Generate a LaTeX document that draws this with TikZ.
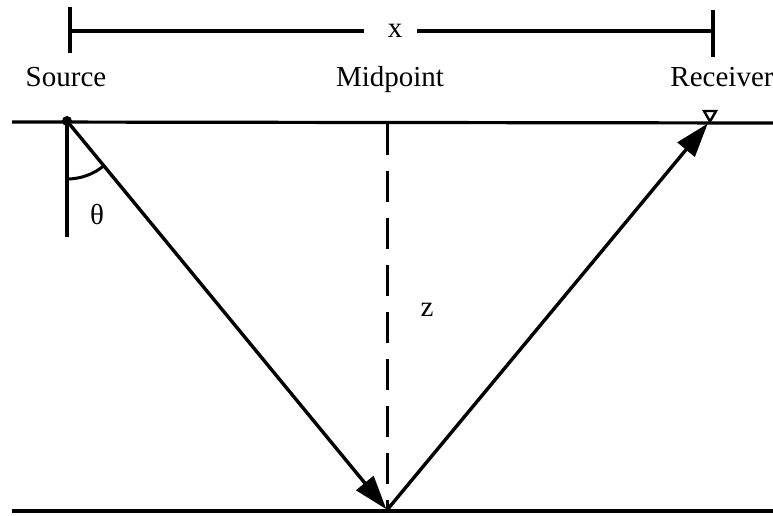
\documentclass[tikz,border=0pt]{standalone}
\usepackage{fontspec}
\setmainfont{Liberation Serif}
\usetikzlibrary{arrows.meta}
\begin{document}
\begin{tikzpicture}[x=1pt,y=-1pt,
  lbl/.style={font=\fontsize{29}{34}\selectfont, inner sep=0pt, anchor=base},
  thick line/.style={line width=3.2pt},
  ray/.style={line width=3.4pt, -{Triangle[length=34pt,width=22pt]}},
  dashline/.style={line width=3pt, dash pattern=on 31pt off 16pt},
]
\useasboundingbox (0,0) rectangle (773,516);
% key points
\coordinate (src) at (67,121);
\coordinate (rcv) at (709,122);
\coordinate (bot) at (387,510);
\coordinate (srcdown) at (67,237);
\coordinate (midtop) at (387,124);
% top span bar
\coordinate (tl1) at (70,7);
\coordinate (tl2) at (70,53);
\coordinate (tr1) at (713,10);
\coordinate (tr2) at (713,57);
\coordinate (bl) at (70,31);
\coordinate (br) at (713,31);
\node[lbl] (xlab) at (395,38) {x};
\draw[thick line] (tl1) -- (tl2);
\draw[thick line] (tr1) -- (tr2);
\draw[thick line] (bl) -- (364,31);
\draw[thick line] (417,31) -- (br);
% labels
\node[lbl] (srclab) at (66,87) {Source};
\node[lbl] (midlab) at (390,87) {Midpoint};
\node[lbl] (rcvlab) at (722,87) {Receiver};
% surface and reflector
\coordinate (sL) at (12,122);
\coordinate (sR) at (773,123);
\coordinate (bL) at (12,511);
\coordinate (bR) at (773,511);
\draw[thick line] (sL) -- (sR);
\draw[thick line] (bL) -- (bR);
% source dot and normal
\fill (src) circle (5);
\draw[thick line] (src) -- (srcdown);
% angle arc
\draw[line width=3pt] ([shift={(90:58)}]src) arc[start angle=90, end angle=50.5, radius=58];
\node[lbl] (theta) at (97,224) {θ};
% midpoint dashed line
\draw[dashline] (midtop) -- (bot);
\node[lbl] (zlab) at (427,316) {z};
% rays
\draw[ray, shorten >=1pt] (src) -- (bot);
\draw[ray, shorten >=2pt] (bot) -- (rcv);
% receiver
\draw[line width=2.4pt, fill=white] (704,111) -- (716,111) -- (710,121.5) -- cycle;
\end{tikzpicture}
\end{document}
